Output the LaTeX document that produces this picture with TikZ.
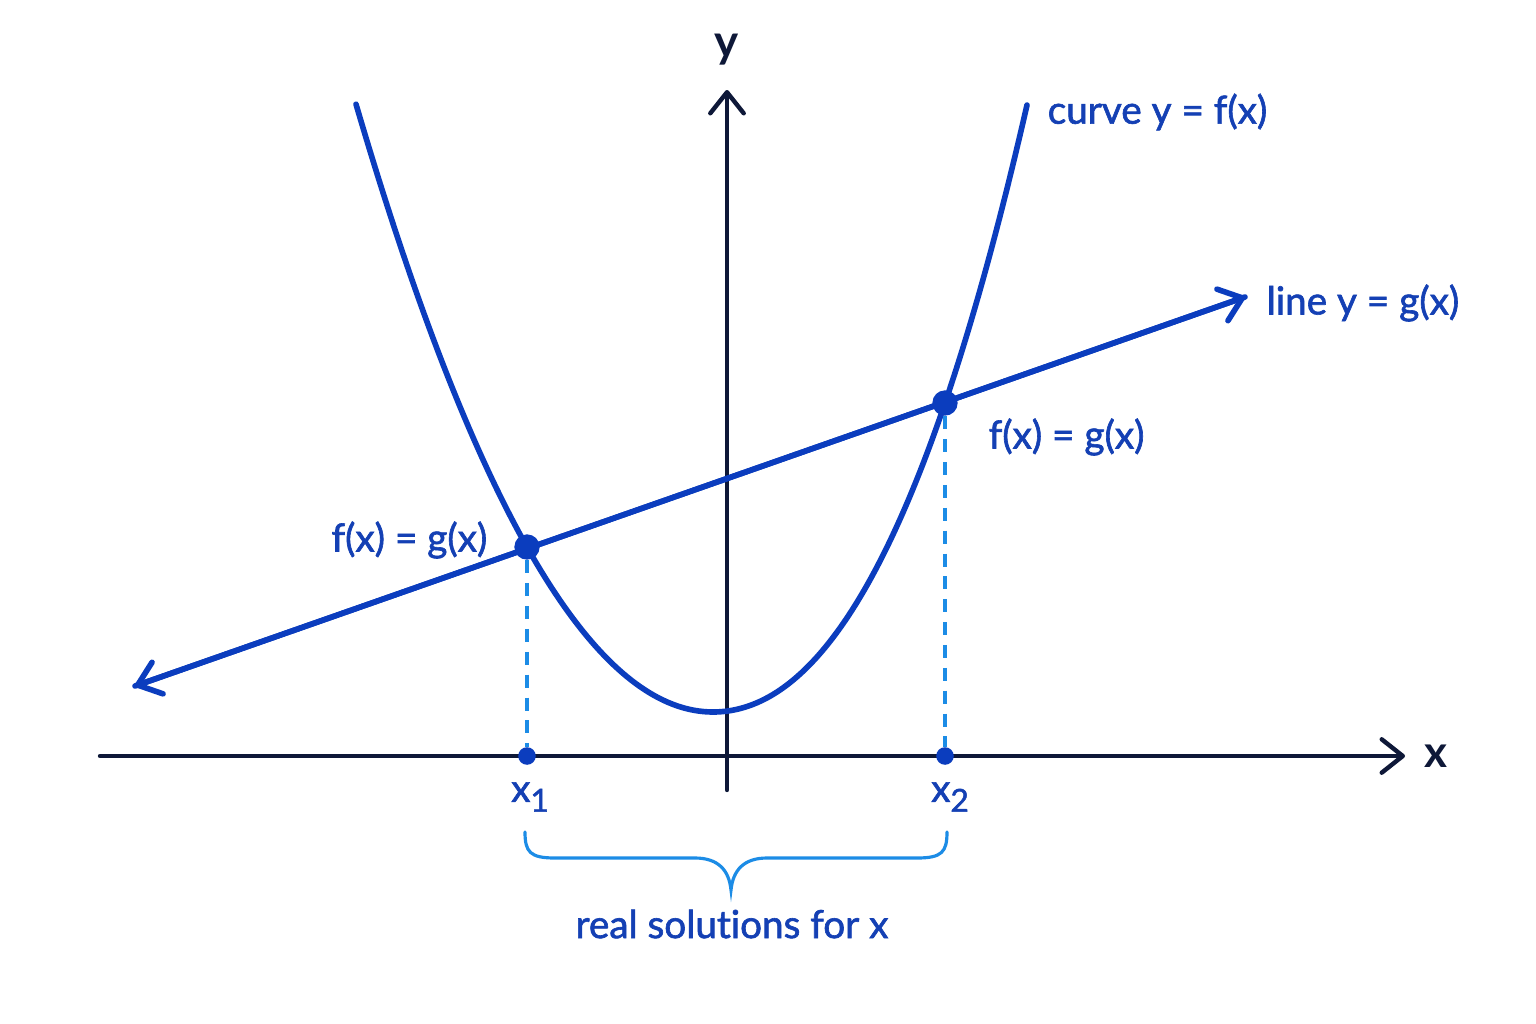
\documentclass[tikz,border=0pt]{standalone}
\usepackage{fontspec}
\setmainfont{Lato}[Ligatures=NoCommon]
\newfontfamily\lblfont{Lato}[Ligatures=NoCommon,RawFeature={embolden=1.6}]
\usetikzlibrary{arrows.meta}
\definecolor{cblue}{HTML}{0B3DBE}
\definecolor{navy}{HTML}{0E1838}
\definecolor{lblue}{HTML}{1C8CE6}
\definecolor{tblue}{HTML}{1440B4}
\begin{document}
\begin{tikzpicture}[x=0.01cm,y=-0.01cm,
  axisline/.style={draw=navy,line width=1.25pt,line cap=round},
  bluecurve/.style={draw=cblue,line width=1.6pt,line cap=round},
  dashline/.style={draw=lblue,line width=0.9pt,dash pattern=on 3.7pt off 2.8pt},
  tip/.style={-{Straight Barb[length=6pt,width=9.5pt,line cap=round,line join=round]}},
  bigdot/.style={circle,fill=cblue,inner sep=0pt,minimum size=7.2pt},
  smalldot/.style={circle,fill=cblue,inner sep=0pt,minimum size=5pt},
  lbl/.style={text=tblue,font=\lblfont\fontsize{11}{12}\selectfont,inner sep=0pt}
]
\useasboundingbox (0,0) rectangle (1536,1024);
\fill[white] (0,0) rectangle (1536,1024);

% coordinates
\coordinate (xs) at (100,756);
\coordinate (xe) at (1405,756);
\coordinate (ys) at (727,790);
\coordinate (ye) at (727,90);
\coordinate (ls) at (135,686);
\coordinate (le) at (1245,297);

% axes
\draw[axisline,tip] (xs) -- (xe);
\draw[axisline,tip] (ys) -- (ye);
\node[text=navy,font=\fontsize{13}{14}\selectfont\bfseries,inner sep=0pt] (ylab) at (727,50) {y};
\node[text=navy,font=\fontsize{12.5}{14}\selectfont\bfseries,inner sep=0pt] (xlab) at (1436,756) {x};

% parabola
\draw[bluecurve] plot[domain=356:713,samples=80] (\x,{712-47.69*((\x-713)/100)^2})
  -- plot[domain=713:1027,samples=80] (\x,{712-45.65*((\x-713)/100)^2-5.067*((\x-713)/100)^3});

% line
\draw[bluecurve,tip] (ls) -- (le);
\draw[bluecurve,tip] (le) -- (ls);

% intersection points
\node[bigdot] (p1) at (527,547) {};
\node[bigdot] (p2) at (945,403) {};
\node[smalldot] (q1) at (527,756) {};
\node[smalldot] (q2) at (945,756) {};
\draw[dashline] (p1) -- (q1);
\draw[dashline] (p2) -- (q2);

% labels
\node[lbl,anchor=west] (cl) at (1047,112) {curve y = f(x)};
\node[lbl,anchor=west] (ll) at (1266,303) {line y = g(x)};
\node[lbl,anchor=west] (e2) at (988,437) {f(x) = g(x)};
\node[lbl,anchor=east] (e1) at (488,540) {f(x) = g(x)};
\node[lbl] (x1) at (530,797) {x\raisebox{-0.5ex}{\fontsize{9}{9}\selectfont 1}};
\node[lbl] (x2) at (950,797) {x\raisebox{-0.5ex}{\fontsize{9}{9}\selectfont 2}};

% brace
\coordinate (bl) at (525,832);
\coordinate (br) at (947,832);
\coordinate (bt) at (731,890);
\draw[draw=lblue,line width=0.9pt,line cap=round]
  (bl) .. controls (525,852) and (530,858) .. (555,858)
  -- (695,858) .. controls (718,858) and (729,870) .. (bt)
  .. controls (733,870) and (744,858) .. (767,858)
  -- (917,858) .. controls (942,858) and (947,852) .. (br);
\node[lbl] (rs) at (732,924) {real solutions for x};
\end{tikzpicture}
\end{document}
